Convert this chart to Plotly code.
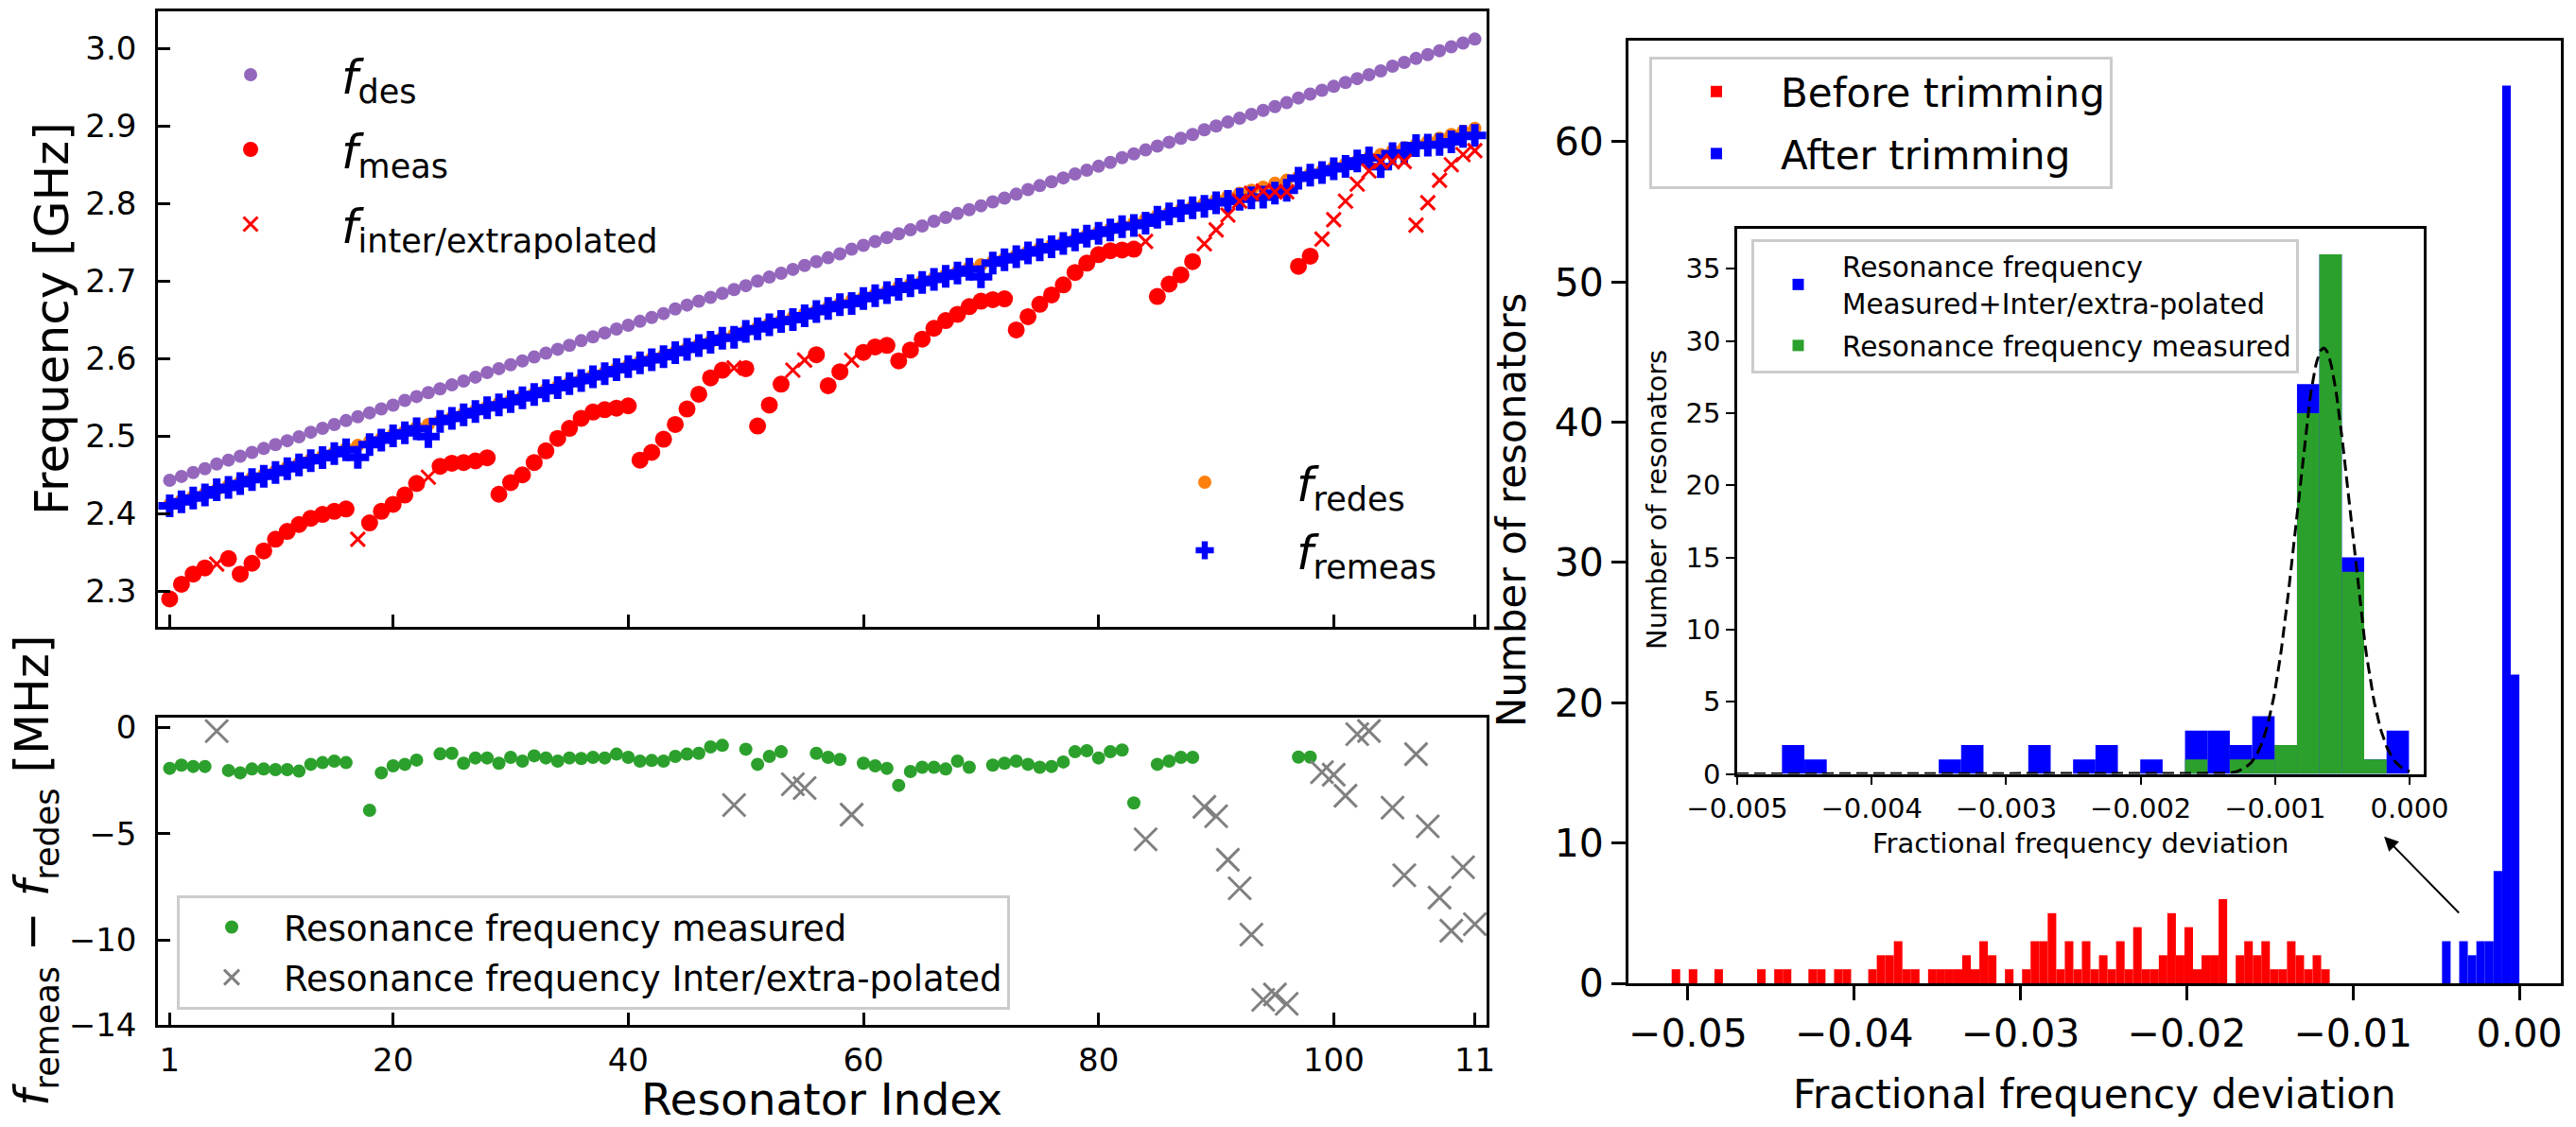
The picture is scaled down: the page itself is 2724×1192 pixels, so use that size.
import numpy as np
import plotly.graph_objects as go

# ---------------- data ----------------
resonator_index = list(range(1, 113))

f_des = [2.443, 2.448, 2.453, 2.458, 2.464, 2.469, 2.474, 2.479, 2.484, 2.489,
         2.494, 2.499, 2.505, 2.510, 2.515, 2.520, 2.525, 2.530, 2.535, 2.540,
         2.546, 2.551, 2.556, 2.561, 2.566, 2.571, 2.576, 2.582, 2.587, 2.592,
         2.597, 2.602, 2.607, 2.612, 2.617, 2.623, 2.628, 2.633, 2.638, 2.643,
         2.648, 2.653, 2.658, 2.664, 2.669, 2.674, 2.679, 2.684, 2.689, 2.694,
         2.700, 2.705, 2.710, 2.715, 2.720, 2.725, 2.730, 2.735, 2.741, 2.746,
         2.751, 2.756, 2.761, 2.766, 2.771, 2.777, 2.782, 2.787, 2.792, 2.797,
         2.802, 2.807, 2.812, 2.818, 2.823, 2.828, 2.833, 2.838, 2.843, 2.848,
         2.853, 2.859, 2.864, 2.869, 2.874, 2.879, 2.884, 2.889, 2.895, 2.900,
         2.905, 2.910, 2.915, 2.920, 2.925, 2.930, 2.936, 2.941, 2.946, 2.951,
         2.956, 2.961, 2.966, 2.971, 2.977, 2.982, 2.987, 2.992, 2.997, 3.002,
         3.007, 3.012]

f_redes = [2.412, 2.417, 2.422, 2.426, 2.431, 2.436, 2.441, 2.446, 2.450, 2.455,
           2.460, 2.465, 2.470, 2.474, 2.479, 2.484, 2.488, 2.493, 2.497, 2.502,
           2.506, 2.511, 2.515, 2.520, 2.524, 2.529, 2.533, 2.538, 2.542, 2.546,
           2.551, 2.555, 2.560, 2.564, 2.569, 2.573, 2.578, 2.582, 2.587, 2.591,
           2.596, 2.600, 2.604, 2.609, 2.613, 2.618, 2.622, 2.627, 2.631, 2.636,
           2.640, 2.645, 2.649, 2.653, 2.658, 2.662, 2.666, 2.671, 2.675, 2.679,
           2.683, 2.687, 2.692, 2.696, 2.700, 2.704, 2.708, 2.712, 2.717, 2.721,
           2.725, 2.729, 2.733, 2.738, 2.742, 2.746, 2.750, 2.754, 2.759, 2.763,
           2.767, 2.771, 2.775, 2.780, 2.784, 2.788, 2.792, 2.796, 2.800, 2.805,
           2.809, 2.813, 2.817, 2.821, 2.826, 2.830, 2.834, 2.838, 2.842, 2.847,
           2.851, 2.855, 2.859, 2.863, 2.868, 2.872, 2.876, 2.880, 2.884, 2.889,
           2.893, 2.897]

f_meas = [2.290, 2.309, 2.322, 2.330, 2.335, 2.342, 2.322, 2.336, 2.352, 2.367,
          2.377, 2.386, 2.394, 2.399, 2.403, 2.406, 2.367, 2.388, 2.403, 2.412,
          2.424, 2.439, 2.447, 2.461, 2.465, 2.466, 2.468, 2.472, 2.425, 2.440,
          2.450, 2.466, 2.481, 2.497, 2.510, 2.523, 2.531, 2.534, 2.536, 2.539,
          2.469, 2.479, 2.496, 2.515, 2.535, 2.554, 2.575, 2.585, 2.588, 2.587,
          2.513, 2.540, 2.567, 2.585, 2.598, 2.605, 2.565, 2.583, 2.598, 2.608,
          2.615, 2.617, 2.597, 2.611, 2.625, 2.639, 2.649, 2.657, 2.667, 2.674,
          2.676, 2.677, 2.637, 2.654, 2.670, 2.682, 2.695, 2.711, 2.723, 2.734,
          2.739, 2.740, 2.741, 2.751, 2.680, 2.696, 2.708, 2.725, 2.748, 2.766,
          2.785, 2.803, 2.813, 2.816, 2.815, 2.815, 2.719, 2.732, 2.754, 2.779,
          2.803, 2.825, 2.842, 2.854, 2.854, 2.854, 2.772, 2.801, 2.830, 2.850,
          2.863, 2.868]

interp_index = [5, 17, 23, 49, 54, 55, 59, 84, 89, 90, 91, 92, 93, 94, 95, 96,
                99, 100, 101, 102, 103, 104, 105, 106, 107, 108, 109, 110, 111, 112]

# f_remeas - f_redes in MHz
delta_mhz = [-1.93, -1.78, -1.84, -1.84, -0.18, -2.03, -2.14, -1.96, -1.96, -1.99,
             -1.99, -2.06, -1.74, -1.66, -1.59, -1.66, -15.5, -3.90, -2.14, -1.81,
             -1.74, -1.54, -15.5, -1.25, -1.22, -1.69, -1.44, -1.44, -1.69, -1.41,
             -1.59, -1.34, -1.44, -1.59, -1.44, -1.47, -1.41, -1.44, -1.26, -1.41,
             -1.59, -1.56, -1.59, -1.37, -1.26, -1.22, -0.92, -0.85, -3.66, -1.03,
             -1.74, -1.37, -1.15, -2.68, -2.86, -1.22, -1.41, -1.51, -4.11, -1.69,
             -1.81, -1.93, -2.73, -2.08, -1.88, -1.88, -1.96, -1.59, -1.88, -15.5,
             -1.78, -1.69, -1.59, -1.74, -1.88, -1.84, -1.63, -1.15, -1.10, -1.44,
             -1.15, -1.07, -3.56, -5.27, -1.74, -1.59, -1.41, -1.41, -3.74, -4.18,
             -6.23, -7.57, -9.75, -12.82, -12.57, -13.01, -1.40, -1.40, -2.11, -2.23,
             -3.22, -0.32, -0.17, -15.5, -3.78, -6.96, -1.26, -4.66, -8.01, -9.57,
             -6.58, -9.26]

x_tickvals = [1, 20, 40, 60, 80, 100, 112]
x_ticktext = ["1", "20", "40", "60", "80", "100", "11"]

# Histogram of fractional deviation, before / after trimming
before_bin_start = -0.05098
before_bin_width = 0.000514
before_counts = [1, 0, 1, 0, 0, 1, 0, 0, 0, 0, 1, 0, 1, 1, 0, 0, 1, 1, 0, 1,
                 1, 0, 0, 1, 2, 2, 3, 1, 1, 0, 1, 1, 1, 1, 2, 1, 3, 2, 0, 1,
                 0, 1, 3, 3, 5, 1, 3, 1, 3, 1, 2, 1, 3, 1, 4, 1, 1, 2, 5, 2,
                 4, 1, 2, 2, 6, 0, 2, 3, 2, 3, 1, 1, 3, 2, 1, 2, 1]
after_bin_start = -0.004649
after_bin_width = 0.000517
after_counts = [3, 0, 3, 2, 3, 3, 8, 64, 22]

# Inset histogram
inset_bin_start = -0.004667
inset_bin_width = 0.0001665
inset_all_counts = [2, 1, 0, 0, 0, 0, 0, 1, 2, 0, 0, 2, 0, 1, 2, 0, 1, 0, 3, 3,
                    2, 4, 2, 27, 36, 15, 1, 3]
inset_meas_counts = [0, 0, 0, 0, 0, 0, 0, 0, 0, 0, 0, 0, 0, 0, 0, 0, 0, 0, 1, 0,
                     1, 1, 2, 25, 36, 14, 1, 0]
gauss_amp = 29.5
gauss_mu = -0.00064
gauss_sigma = 0.0002

# ---------------- derived ----------------
idx = np.array(resonator_index)
des = np.array(f_des)
redes = np.array(f_redes)
meas = np.array(f_meas)
delta = np.array(delta_mhz)
remeas = redes + delta / 1000.0
is_interp = np.isin(idx, interp_index)


def centers(start, width, n):
    return start + width * (np.arange(n) + 0.5)


FONT = "DejaVu Sans"
W, H = 2724, 1192

fig = go.Figure()

# ---- top-left panel ----
fig.add_trace(go.Scatter(x=idx, y=des, mode="markers", name="<i>f</i><sub>des</sub>",
                         marker=dict(color="#9467bd", size=14), legend="legend",
                         legendgroup="g1", xaxis="x", yaxis="y"))
fig.add_trace(go.Scatter(x=idx, y=redes, mode="markers", name="<i>f</i><sub>redes</sub>",
                         marker=dict(color="#ff7f0e", size=14), legend="legend2",
                         legendgroup="g4", xaxis="x", yaxis="y"))
fig.add_trace(go.Scatter(x=idx, y=remeas, mode="markers", name="<i>f</i><sub>remeas</sub>",
                         marker=dict(color="#0000ff", size=20, symbol="cross"), legend="legend2",
                         legendgroup="g5", xaxis="x", yaxis="y"))
fig.add_trace(go.Scatter(x=idx[~is_interp], y=meas[~is_interp], mode="markers",
                         name="<i>f</i><sub>meas</sub>",
                         marker=dict(color="#ff0000", size=18), legend="legend",
                         legendgroup="g2", xaxis="x", yaxis="y"))
fig.add_trace(go.Scatter(x=idx[is_interp], y=meas[is_interp], mode="markers",
                         name="<i>f</i><sub>inter/extrapolated</sub>",
                         marker=dict(color="#ff0000", size=15, symbol="x-thin",
                                     line=dict(color="#ff0000", width=3)),
                         legend="legend", legendgroup="g3", xaxis="x", yaxis="y"))

# ---- bottom-left panel ----
fig.add_trace(go.Scatter(x=idx[~is_interp], y=delta[~is_interp], mode="markers",
                         name="Resonance frequency measured",
                         marker=dict(color="#2ca02c", size=14), legend="legend3",
                         legendgroup="b1", xaxis="x2", yaxis="y2"))
fig.add_trace(go.Scatter(x=idx[is_interp], y=delta[is_interp], mode="markers",
                         name="Resonance frequency Inter/extra-polated",
                         marker=dict(color="#808080", size=24, symbol="x-thin",
                                     line=dict(color="#808080", width=3)),
                         legend="legend3", legendgroup="b2", xaxis="x2", yaxis="y2"))

# ---- right panel histogram ----
fig.add_trace(go.Bar(x=centers(before_bin_start, before_bin_width, len(before_counts)),
                     y=before_counts, width=before_bin_width, name="Before trimming",
                     marker=dict(color="#ff0000", line=dict(width=0)), legend="legend4",
                     legendgroup="h1", xaxis="x3", yaxis="y3"))
fig.add_trace(go.Bar(x=centers(after_bin_start, after_bin_width, len(after_counts)),
                     y=after_counts, width=after_bin_width, name="After trimming",
                     marker=dict(color="#0000ff", line=dict(width=0)), legend="legend4",
                     legendgroup="h2", xaxis="x3", yaxis="y3"))

# ---- inset ----
fig.add_trace(go.Bar(x=centers(inset_bin_start, inset_bin_width, len(inset_all_counts)),
                     y=inset_all_counts, width=inset_bin_width,
                     name="Resonance frequency<br>Measured+Inter/extra-polated",
                     marker=dict(color="#0000ff", line=dict(width=0)), legend="legend5",
                     legendgroup="i1", xaxis="x4", yaxis="y4"))
fig.add_trace(go.Bar(x=centers(inset_bin_start, inset_bin_width, len(inset_meas_counts)),
                     y=inset_meas_counts, width=inset_bin_width,
                     name="Resonance frequency measured",
                     marker=dict(color="#2ca02c", line=dict(width=0)), legend="legend5",
                     legendgroup="i2", xaxis="x4", yaxis="y4"))
gx = np.linspace(-0.005, 0.0, 500)
gy = gauss_amp * np.exp(-0.5 * ((gx - gauss_mu) / gauss_sigma) ** 2)
fig.add_trace(go.Scatter(x=gx, y=gy, mode="lines", showlegend=False,
                         line=dict(color="black", width=3, dash="12px,6px"),
                         xaxis="x4", yaxis="y4"))

# ---------------- layout ----------------
def px_x(p):
    return p / W


def px_y(p):
    return 1 - p / H


LEFT_DOM = [px_x(167), px_x(1572)]


def left_xaxis(anchor, labels):
    return dict(domain=LEFT_DOM, anchor=anchor, range=[0, 113], tickvals=x_tickvals,
                ticktext=x_ticktext, ticks="inside", ticklen=13, tickwidth=2.5,
                tickcolor="black", showline=True, linecolor="black", linewidth=2.5,
                mirror=True, showgrid=False, zeroline=False, showticklabels=labels,
                automargin=False, ticklabelstandoff=5,
                tickfont=dict(family=FONT, size=34, color="black"))


freq_ticks = [2.3, 2.4, 2.5, 2.6, 2.7, 2.8, 2.9, 3.0]
diff_ticks = [0, -5, -10, -14]
hist_x_ticks = [-0.05, -0.04, -0.03, -0.02, -0.01, 0.0]
hist_y_ticks = [0, 10, 20, 30, 40, 50, 60]
inset_x_ticks = [-0.005, -0.004, -0.003, -0.002, -0.001, 0.0]
inset_y_ticks = [0, 5, 10, 15, 20, 25, 30, 35]


def lab(v, fmt):
    s = format(v, fmt)
    return s.replace("-", "\u2212")


fig.update_layout(
    width=W, height=H, margin=dict(l=0, r=0, t=0, b=0, pad=0, autoexpand=False),
    paper_bgcolor="white", plot_bgcolor="white", barmode="overlay",
    font=dict(family=FONT, color="black"),
    xaxis=left_xaxis("y", False),
    yaxis=dict(domain=[px_y(663), px_y(11.8)], anchor="x", range=[2.254, 3.048],
               tickvals=freq_ticks, ticktext=[lab(v, ".1f") for v in freq_ticks],
               ticks="inside", ticklen=13, tickwidth=2.5, tickcolor="black",
               showline=True, linecolor="black", linewidth=2.5, mirror=True,
               showgrid=False, zeroline=False, automargin=False, ticklabelstandoff=13,
               tickfont=dict(family=FONT, size=34, color="black")),
    xaxis2=left_xaxis("y2", True),
    yaxis2=dict(domain=[px_y(1084), px_y(758.7)], anchor="x2", range=[-14.0, 0.47],
                tickvals=diff_ticks, ticktext=[lab(v, "d") for v in diff_ticks],
                ticks="inside", ticklen=13, tickwidth=2.5, tickcolor="black",
                showline=True, linecolor="black", linewidth=2.5, mirror=True,
                showgrid=False, zeroline=False, automargin=False, ticklabelstandoff=13,
                tickfont=dict(family=FONT, size=34, color="black")),
    xaxis3=dict(domain=[px_x(1722), px_x(2708)], anchor="y3", range=[-0.05358, 0.0025],
                tickvals=hist_x_ticks, ticktext=[lab(v, ".2f") for v in hist_x_ticks],
                ticks="outside", ticklen=15, tickwidth=3, tickcolor="black",
                showline=True, linecolor="black", linewidth=3, mirror=True,
                showgrid=False, zeroline=False, automargin=False,
                tickfont=dict(family=FONT, size=41, color="black")),
    yaxis3=dict(domain=[px_y(1040), px_y(43)], anchor="x3", range=[0, 67.2],
                tickvals=hist_y_ticks, ticktext=[str(v) for v in hist_y_ticks],
                ticks="outside", ticklen=15, tickwidth=3, tickcolor="black",
                showline=True, linecolor="black", linewidth=3, mirror=True,
                showgrid=False, zeroline=False, automargin=False,
                tickfont=dict(family=FONT, size=41, color="black")),
    xaxis4=dict(domain=[px_x(1837), px_x(2563)], anchor="y4", range=[-0.005, 0.000105],
                tickvals=inset_x_ticks, ticktext=[lab(v, ".3f") for v in inset_x_ticks],
                ticks="outside", ticklen=9, tickwidth=2, tickcolor="black",
                showline=True, linecolor="black", linewidth=2.5, mirror=True,
                showgrid=False, zeroline=False, automargin=False,
                tickfont=dict(family=FONT, size=29, color="black")),
    yaxis4=dict(domain=[px_y(818.5), px_y(241.5)], anchor="x4", range=[0, 37.8],
                tickvals=inset_y_ticks, ticktext=[str(v) for v in inset_y_ticks],
                ticks="outside", ticklen=9, tickwidth=2, tickcolor="black",
                showline=True, linecolor="black", linewidth=2.5, mirror=True,
                showgrid=False, zeroline=False, automargin=False,
                tickfont=dict(family=FONT, size=29, color="black")),
    legend=dict(x=px_x(169), y=px_y(40), xanchor="left", yanchor="top",
                bgcolor="rgba(0,0,0,0)", borderwidth=0, itemwidth=182,
                tracegroupgap=11, font=dict(family=FONT, size=50, color="black")),
    legend2=dict(x=px_x(1177), y=px_y(471), xanchor="left", yanchor="top",
                 bgcolor="rgba(0,0,0,0)", borderwidth=0, itemwidth=184,
                 tracegroupgap=4, font=dict(family=FONT, size=50, color="black")),
    legend3=dict(x=px_x(187), y=px_y(947), xanchor="left", yanchor="top",
                 bgcolor="rgba(255,255,255,0.8)", bordercolor="#cccccc", borderwidth=3,
                 itemwidth=100, tracegroupgap=2,
                 font=dict(family=FONT, size=37, color="black")),
    legend4=dict(x=px_x(1744), y=px_y(60), xanchor="left", yanchor="top",
                 bgcolor="rgba(255,255,255,0.8)", bordercolor="#cccccc", borderwidth=3,
                 itemwidth=126, tracegroupgap=8,
                 font=dict(family=FONT, size=42, color="black")),
    legend5=dict(x=px_x(1852), y=px_y(253), xanchor="left", yanchor="top",
                 bgcolor="rgba(255,255,255,0.8)", bordercolor="#cccccc", borderwidth=3,
                 itemwidth=83, tracegroupgap=4,
                 font=dict(family=FONT, size=29.5, color="black")),
)

titles = [
    ("Frequency [GHz]", 55, 337, 50, -90, "middle"),
    ("<i>f</i><sub>remeas</sub> \u2212 <i>f</i><sub>redes</sub> [MHz]", 37, 921, 50, -90, "middle"),
    ("Resonator Index", 869, 1192, 47, 0, "bottom"),
    ("Number of resonators", 1598, 540, 42, -90, "middle"),
    ("Fractional frequency deviation", 2215, 1157, 42, 0, "middle"),
    ("Number of resonators", 1752, 529, 29, -90, "middle"),
    ("Fractional frequency deviation", 2200, 892, 29, 0, "middle"),
]
annotations = []
for text, cx, cy, size, ang, yanc in titles:
    annotations.append(dict(text=text, x=px_x(cx), y=px_y(cy), xref="paper", yref="paper",
                            xanchor="center", yanchor=yanc, showarrow=False,
                            textangle=ang, font=dict(family=FONT, size=size, color="black")))
annotations.append(dict(text="", x=-0.00813, y=10.46, ax=-0.00355, ay=4.92,
                        xref="x3", yref="y3", axref="x3", ayref="y3", showarrow=True,
                        arrowhead=2, arrowsize=1.5, arrowwidth=2, arrowcolor="black"))
fig.update_layout(annotations=annotations)

fig.write_html("out.html")
